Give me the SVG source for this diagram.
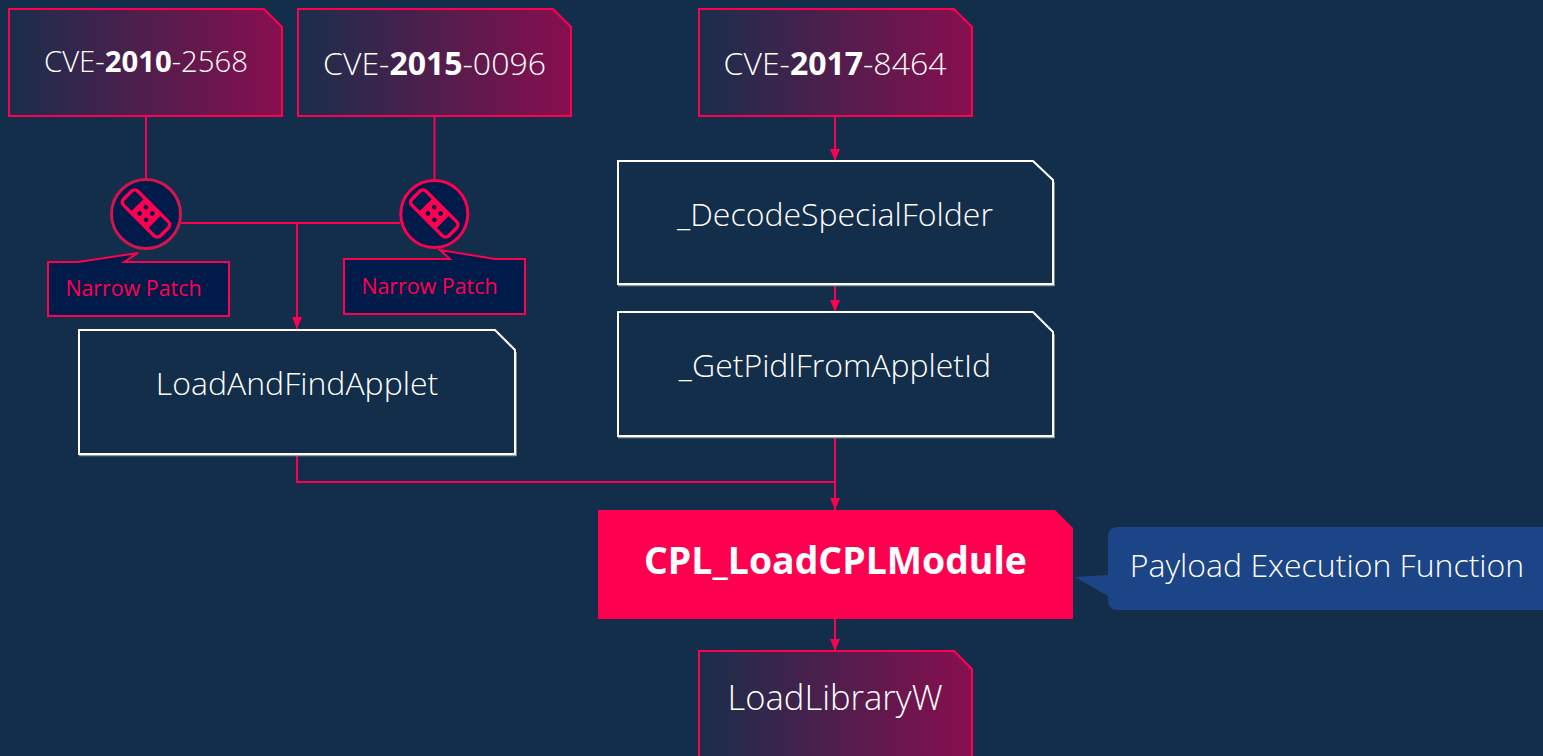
<svg xmlns="http://www.w3.org/2000/svg" width="1543" height="756" viewBox="0 0 1543 756">
<style>
text{font-family:"Open Sans","Liberation Sans",sans-serif;font-weight:300;fill:#fff;text-anchor:middle}
.bold{font-weight:700}
.cve{stroke:#ff0050;stroke-width:2;fill:url(#g)}
.fn{stroke:#fff;stroke-width:2;fill:#132e4a}
.sh{fill:none;stroke:#8f9aa6;stroke-width:1.500}
.conn{fill:none;stroke:#ff0050;stroke-width:2}
.circ{fill:#001a4a;stroke:#ff0050;stroke-width:3}
.call{fill:#001a4a;stroke:#ff0050;stroke-width:2}
.lbl{font-size:32px}
.nar{font-size:21.400px;font-weight:400;fill:#ff0050}
.ico{fill:none;stroke:#ff0050;stroke-width:3.500}
.mid{fill:#ff0050}
.dot{fill:#001a4a}
</style>
<defs>
<linearGradient id="g" x1="0" x2="1" y1="0" y2="0"><stop offset="0" stop-color="#192e4b"/><stop offset="1" stop-color="#880e4f"/></linearGradient>
<marker id="d" markerUnits="userSpaceOnUse" markerWidth="12" markerHeight="10" refX="12" refY="5" orient="auto" viewBox="0 0 12 10"><path d="M0 0L12 5L0 10Z" fill="#ff0050"/></marker>
<g id="band">
<rect class="ico" x="-26" y="-10" width="52" height="20" rx="4.500"/>
<rect class="mid" x="-12" y="-10" width="24" height="20"/>
<circle class="dot" cx="-4.500" cy="-4.500" r="2.300"/><circle class="dot" cx="4.500" cy="-4.500" r="2.300"/><circle class="dot" cx="-4.500" cy="4.500" r="2.300"/><circle class="dot" cx="4.500" cy="4.500" r="2.300"/>
</g>
</defs>
<rect width="1543" height="756" fill="#132e4a"/>
<g id="connectors">
<path class="conn" d="M146 116V180"/>
<path class="conn" d="M434.500 116V180"/>
<path class="conn" d="M181 223H400"/>
<path class="conn" d="M297 223V329" marker-end="url(#d)"/>
<path class="conn" d="M835 116V161" marker-end="url(#d)"/>
<path class="conn" d="M835 284V312" marker-end="url(#d)"/>
<path class="conn" d="M835 436V510" marker-end="url(#d)"/>
<path class="conn" d="M297 454V482H835"/>
<path class="conn" d="M835 619V651" marker-end="url(#d)"/>
</g>
<g id="cve2010"><path class="cve" d="M9 9H264L282 27V116H9Z"/><text x="146" y="72" font-size="29.300">CVE-<tspan class="bold">2010</tspan>-2568</text></g>
<g id="cve2015"><path class="cve" d="M298 9H553L571 27V116H298Z"/><text class="lbl" x="434.500" y="75">CVE-<tspan class="bold">2015</tspan>-0096</text></g>
<g id="cve2017"><path class="cve" d="M699 9H954L972 27V116H699Z"/><text class="lbl" x="835" y="75">CVE-<tspan class="bold">2017</tspan>-8464</text></g>
<g id="patch1"><circle class="circ" cx="146" cy="214" r="34.500" style="stroke:#d2154f"/><use href="#band" transform="translate(146 213.500) rotate(45)"/></g>
<g id="patch2"><circle class="circ" cx="434.300" cy="214" r="33.500"/><use href="#band" transform="translate(434.300 213.500) rotate(45)"/></g>
<g id="note1"><path class="call" d="M48 262H78L138 253L124 262H229V316H48Z"/><text class="nar" x="133.500" y="296">Narrow Patch</text></g>
<g id="note2"><path class="call" d="M344 259H450L440 250L495 259H525V314H344Z"/><text class="nar" x="429.500" y="294">Narrow Patch</text></g>
<g id="decode"><path class="sh" d="M618 285.500H1054V182"/><path class="fn" d="M618 161H1033L1053 180V284H618Z"/><text class="lbl" x="835" y="226">_DecodeSpecialFolder</text></g>
<g id="getpidl"><path class="sh" d="M618 437.500H1054V334"/><path class="fn" d="M618 312H1033L1053 332V436H618Z"/><text class="lbl" x="835" y="377">_GetPidlFromAppletId</text></g>
<g id="loadfind"><path class="sh" d="M79 455.500H516V352"/><path class="fn" d="M79 330H495L515 350V454H79Z"/><text class="lbl" x="297" y="395">LoadAndFindApplet</text></g>
<g id="cpl"><path d="M598 510H1055L1073 528V619H598Z" fill="#ff0050"/><text x="835.500" y="574" font-size="37.400" class="bold">CPL_LoadCPLModule</text></g>
<g id="note3"><path d="M1118 527H1553V610H1118Q1108 610 1108 600V596L1075 577L1108 575V537Q1108 527 1118 527Z" fill="#1c4587"/><text class="lbl" x="1327" y="577">Payload Execution Function</text></g>
<g id="loadlib"><path class="cve" d="M699 651H954L972 669V760H699Z"/><text x="835" y="710" font-size="34.600">LoadLibraryW</text></g>
</svg>
